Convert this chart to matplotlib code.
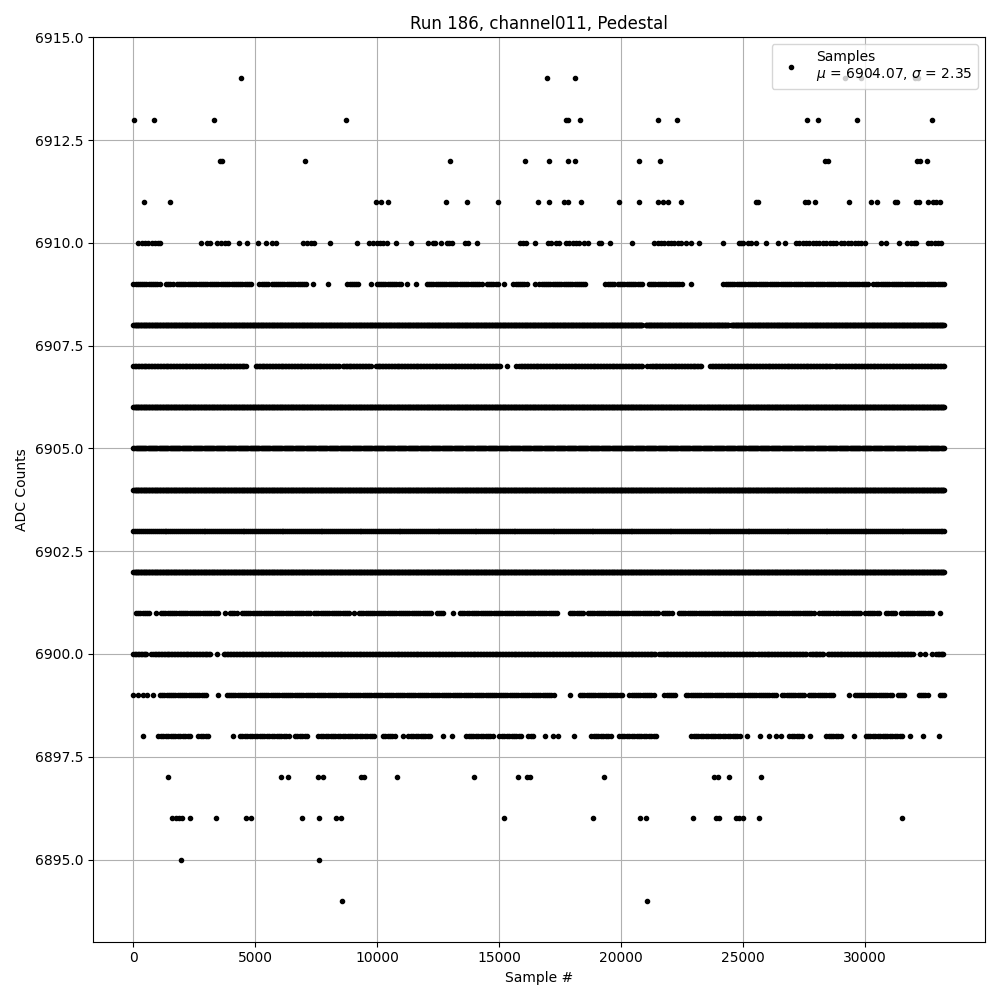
import numpy as np
import matplotlib.pyplot as plt

# ADC readout of one channel.
# Sparse levels: sample numbers of single points.
# Dense levels: (first, last) sample spans where the level is hit almost every sample.
n_samples = 33280

pts_6914 = [4432, 16990, 18140, 29180, 29836, 32052, 32175]
pts_6913 = [12, 833, 3295, 8713, 17750, 17850, 18316, 21517, 22297, 27633,
            28084, 29685, 32762]
pts_6912 = [3570, 3653, 7030, 12981, 16059, 17044, 17824, 18140, 20738, 21600,
            28359, 28511, 32163, 32257, 32573]
pts_6911 = [423, 1490, 9973, 10149, 10437, 12817, 13679, 14951, 16621, 17044,
            17688, 17824, 18358, 19917, 20738, 21517, 21750, 21928, 22461, 25555,
            25650, 27567, 27690, 27977, 29356, 30287, 30505, 31231, 31342, 32098,
            32228, 32624, 32803, 32943, 33078]
pts_6910 = [205, 342, 479, 616, 752, 889, 1026, 1094, 2777, 3009, 3146, 3420,
            3598, 3762, 3899, 4323, 4651, 5103, 5431, 5705, 5841, 6977, 7114,
            7278, 7428, 8058, 9166, 9686, 9850, 9986, 10123, 10233, 10397, 10766,
            11382, 12107, 12312, 12380, 12613, 12859, 12969, 13065, 13612, 13749,
            14090, 15869, 16005, 16115, 16484, 17004, 17141, 17346, 17483, 17756,
            17893, 18030, 18167, 18304, 18509, 18646, 19124, 19193, 19576, 20451,
            21382, 21518, 21655, 21792, 21929, 22066, 22202, 22339, 22476, 22681,
            22886, 23201, 24186, 24843, 24938, 25007, 25212, 25349, 25554, 25964,
            26443, 26744, 27196, 27332, 27469, 27606, 27743, 27880, 28016, 28153,
            28290, 28427, 28564, 28700, 28837, 29042, 29179, 29316, 29453, 29590,
            29726, 29863, 30000, 30684, 30889, 31395, 31751, 31888, 32025, 32120,
            32599, 32736, 32873, 33010, 33119]

run_6909 = [(0, 1162), (1340, 1669), (1778, 4897), (5171, 5540), (5677, 5950),
            (6019, 7113), (8782, 9302), (9986, 11012), (12038, 14295),
            (14500, 14979), (15595, 16210), (16662, 18577), (19371, 19740),
            (19877, 20903), (21149, 22572), (24214, 30205), (30479, 33280)]
pts_6909 = [7359, 7975, 9740, 11217, 11600, 15225, 16484, 22886, 30342]

run_6908 = [(0, 20900), (21020, 24420), (24530, n_samples)]

run_6907 = [(0, 4678), (5020, 8454), (8591, 9740), (9959, 15116),
            (15841, 20903), (21204, 23338), (23680, 28700), (28769, n_samples)]
pts_6907 = [15321, 15704, 21067]

run_6906 = [(0, n_samples)]
run_6905 = [(0, n_samples)]
run_6904 = [(0, n_samples)]
run_6903 = [(0, n_samples)]
run_6902 = [(0, n_samples)]

run_6901 = [(109, 684), (1135, 3557), (3967, 4268), (4446, 6429), (6525, 7319),
            (7414, 8892), (9261, 12312), (12449, 12722), (13406, 13817),
            (13885, 17414), (17921, 18509), (18646, 21587), (21724, 22134),
            (22380, 25144), (25212, 27948), (28153, 28700), (28837, 29863),
            (30137, 30616), (30889, 31300), (31505, 32804)]
pts_6901 = [916, 3762, 9070, 13105, 30000, 33078]

run_6900 = [(0, 547), (821, 3215), (3720, 13270), (13379, 21450),
            (21655, 25554), (25622, 27606), (27770, 28331), (28495, 31984),
            (32941, n_samples)]
pts_6900 = [711, 3447, 21559, 32257, 32462, 32777]

run_6899 = [(1094, 3037), (3830, 17278), (18331, 20082), (20356, 21382),
            (21792, 22243), (22681, 26443), (26621, 27538), (27715, 28769),
            (29590, 31163), (31368, 31710), (32230, 32599), (33078, n_samples)]
pts_6899 = [0, 205, 383, 574, 793, 3488, 17921, 29357]

run_6898 = [(1026, 2421), (2667, 3146), (4377, 6429), (6634, 7182),
            (7592, 9986), (10232, 10807), (11286, 12271), (13652, 14774),
            (15020, 15937), (16211, 16484), (18782, 19603), (19945, 21450),
            (22886, 24938), (26922, 27469), (28427, 29042), (30041, 31573)]
pts_6898 = [383, 4076, 11053, 12722, 13064, 16908, 17209, 17414, 18071, 25171,
            25718, 26101, 26375, 26580, 27756, 29549, 31847, 32394, 33051]

pts_6897 = [1409, 6046, 6334, 7592, 7770, 9343, 9467, 10807, 13994, 15773,
            16142, 16279, 19302, 23844, 23981, 24432, 25746]
pts_6896 = [1601, 1738, 1874, 2011, 2312, 3379, 4624, 4815, 6908, 7606, 8304,
            8509, 15198, 18851, 20807, 21040, 22955, 23912, 24049, 24733, 24870,
            25007, 25663, 31532]
pts_6895 = [1943, 7606]
pts_6894 = [8550, 21067]


def level(value, runs=(), singles=(), step=30):
    xs = [np.arange(a, b + 1, step) for a, b in runs]
    xs.append(np.array(singles, dtype=float))
    x = np.concatenate(xs)
    return x, np.full(len(x), value)


# sparser levels get a coarser step so their bands look speckled
parts = [
    level(6914, singles=pts_6914),
    level(6913, singles=pts_6913),
    level(6912, singles=pts_6912),
    level(6911, singles=pts_6911),
    level(6910, singles=pts_6910),
    level(6909, run_6909, pts_6909, step=90),
    level(6908, run_6908),
    level(6907, run_6907, pts_6907, step=60),
    level(6906, run_6906),
    level(6905, run_6905, step=45),
    level(6904, run_6904),
    level(6903, run_6903, step=80),
    level(6902, run_6902),
    level(6901, run_6901, pts_6901, step=90),
    level(6900, run_6900, pts_6900, step=60),
    level(6899, run_6899, pts_6899, step=90),
    level(6898, run_6898, pts_6898, step=100),
    level(6897, singles=pts_6897),
    level(6896, singles=pts_6896),
    level(6895, singles=pts_6895),
    level(6894, singles=pts_6894),
]
x = np.concatenate([p[0] for p in parts])
y = np.concatenate([p[1] for p in parts])

plt.figure(figsize=(10, 10))
plt.plot(x, y, 'k.', label='Samples\n$\\mu$ = 6904.07, $\\sigma$ = 2.35')
plt.title("Run 186, channel011, Pedestal")
plt.xlabel("Sample #")
plt.ylabel("ADC Counts")
plt.grid(True)
plt.legend(loc='upper right')

plt.tight_layout()
plt.savefig("out.png", dpi=100)
